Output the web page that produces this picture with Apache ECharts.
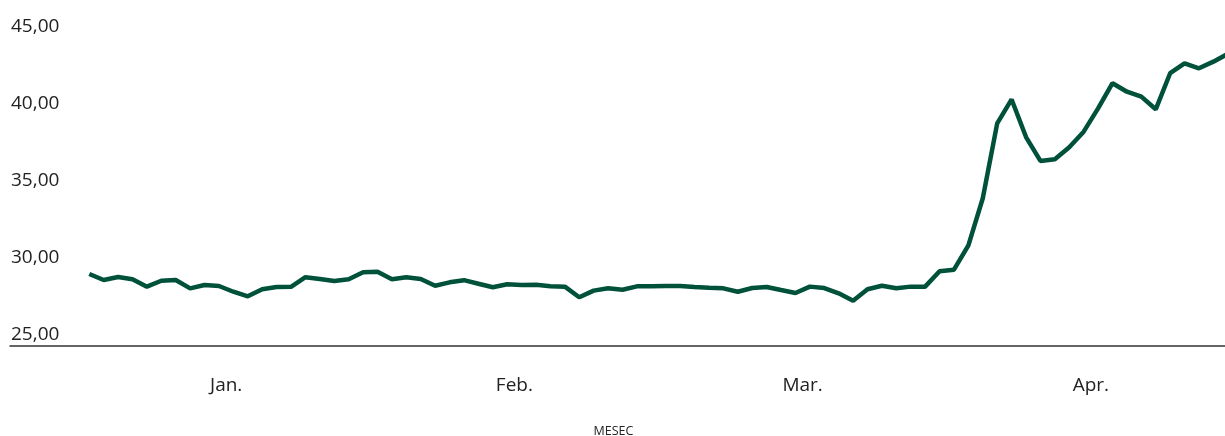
<!DOCTYPE html>
<html>
<head>
<meta charset="utf-8">
<script src="https://cdn.jsdelivr.net/npm/echarts@6/dist/echarts.min.js"></script>
<style>
  html, body { margin: 0; padding: 0; background: #fff; }
  #chart { width: 1225px; height: 436px; }
</style>
</head>
<body>
<div id="chart"></div>
<script>
// dnevne vrednosti (trgovalni dnevi, jan.–apr.)
const prices = [
  29.67, 29.28, 29.47, 29.33, 28.85, 29.23, 29.28, 28.74, 28.96, 28.89,
  28.52, 28.22, 28.68, 28.82, 28.84, 29.46, 29.35, 29.22, 29.33, 29.78,
  29.82, 29.33, 29.46, 29.35, 28.91, 29.13, 29.27, 29.04, 28.81, 29.00,
  28.96, 28.97, 28.87, 28.85, 28.16, 28.59, 28.74, 28.65, 28.87, 28.87,
  28.89, 28.89, 28.83, 28.78, 28.74, 28.52, 28.76, 28.83, 28.63, 28.44,
  28.85, 28.76, 28.42, 27.94, 28.68, 28.91, 28.74, 28.85, 28.85, 29.85,
  29.95, 31.52, 34.58, 39.44, 40.99, 38.55, 37.00, 37.11, 37.89, 38.90,
  40.41, 42.04, 41.49, 41.17, 40.35, 42.69, 43.33, 43.01, 43.44, 43.95
]
const months = ['Jan.', 'Feb.', 'Mar.', 'Apr.']
const monthStart = [0, 20, 40, 60]   // indeks prvega dne v mesecu
const daysInMonth = 20
const yTicks = [25, 30, 35, 40, 45]

const chart = echarts.init(document.getElementById('chart'))

const monthMid = monthStart.map(s => s + (daysInMonth - 1) / 2)
const lineData = prices.map((v, i) => [i, v])
const fmt = v => v.toFixed(2).replace('.', ',')

const option = {
  animation: false,
  textStyle: { fontFamily: '"Open Sans", "Noto Sans", sans-serif' },
  grid: {
    left: 10,
    right: -10,
    top: 37.6,
    bottom: 90,
    containLabel: false,
    outerBoundsMode: 'none'
  },
  xAxis: {
    type: 'value',
    min: -5.5,
    max: 79.5,
    name: 'MESEC',
    nameLocation: 'middle',
    nameGap: 79,
    nameTextStyle: {
      fontSize: 12.5,
      color: '#222',
      padding: [0, 18, 0, 0]
    },
    axisLine: { show: true, lineStyle: { color: '#333', width: 1.5 } },
    axisTick: { show: false },
    splitLine: { show: false },
    axisLabel: {
      customValues: monthMid,
      formatter: v => months[monthMid.indexOf(v)] || '',
      fontSize: 19,
      color: '#222',
      margin: 30
    }
  },
  yAxis: {
    type: 'value',
    min: yTicks[0],
    max: yTicks[yTicks.length - 1],
    interval: 5,
    axisLine: { show: false },
    axisTick: { show: false },
    splitLine: { show: false },
    axisLabel: {
      inside: true,
      margin: 1,
      verticalAlign: 'bottom',
      align: 'left',
      padding: [0, 0, 2, 0],
      fontSize: 19,
      color: '#222',
      formatter: fmt
    }
  },
  series: [
    {
      type: 'line',
      data: lineData,
      showSymbol: false,
      clip: true,
      lineStyle: { color: '#00513a', width: 4.5 }
    }
  ]
}

chart.setOption(option)
</script>
</body>
</html>
